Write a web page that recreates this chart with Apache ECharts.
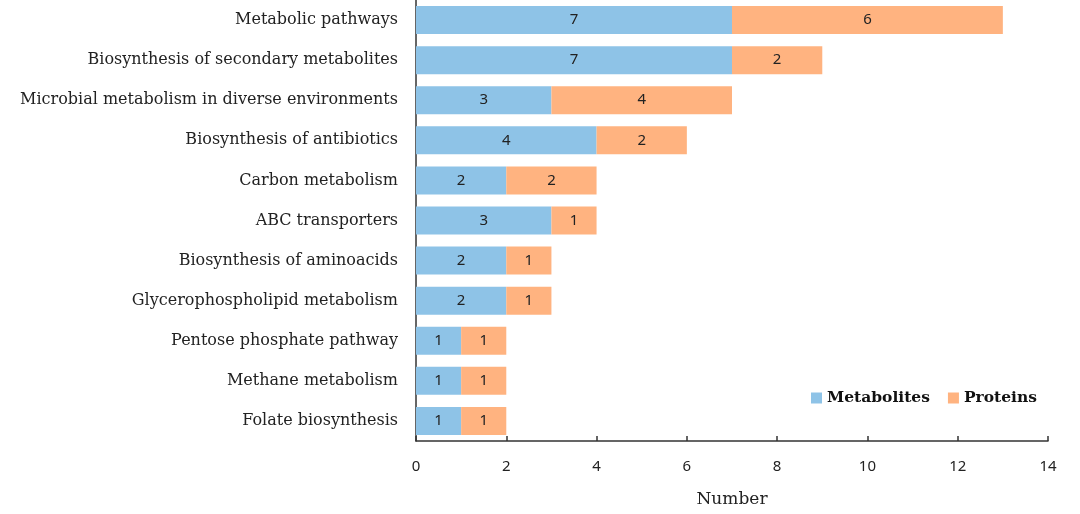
<!DOCTYPE html>
<html><head><meta charset="utf-8">
<script src="https://cdn.jsdelivr.net/npm/echarts@6/dist/echarts.min.js"></script>
<style>html,body{margin:0;padding:0;background:#fff}#c{width:1080px;height:514px}</style>
</head><body><div id="c"></div>
<script>
const categories = ["Metabolic pathways","Biosynthesis of secondary metabolites","Microbial metabolism in diverse environments","Biosynthesis of antibiotics","Carbon metabolism","ABC transporters","Biosynthesis of aminoacids","Glycerophospholipid metabolism","Pentose phosphate pathway","Methane metabolism","Folate biosynthesis"];
const metabolites = [7,7,3,4,2,3,2,2,1,1,1];
const proteins = [6,2,4,2,2,1,1,1,1,1,1];
const xTicks = [0,2,4,6,8,10,12,14];

const chart = echarts.init(document.getElementById('c'), null, {renderer:'canvas'});
const labelStyle = {show:true, position:'inside', color:'#222', fontFamily:'Noto Sans', fontSize:15};
chart.setOption({
  animation:false,
  grid:{left:416, right:32, top:0, bottom:73, containLabel:false},
  legend:{
    data:['Metabolites','Proteins'], right:38, top:385, itemWidth:11, itemHeight:11, itemGap:18,
    icon:'rect',
    textStyle:{fontFamily:'DejaVu Serif', fontWeight:'bold', fontSize:15.5, color:'#111'}
  },
  xAxis:{
    type:'value', min:xTicks[0], max:xTicks[xTicks.length-1], interval:2,
    name:'Number', nameLocation:'middle', nameGap:50,
    nameTextStyle:{fontFamily:'DejaVu Serif', fontSize:17, color:'#222'},
    axisLine:{show:true, lineStyle:{color:'#333', width:1.5}},
    axisTick:{show:true, inside:true, length:5, lineStyle:{color:'#333', width:1.5}},
    axisLabel:{fontFamily:'Noto Sans', fontSize:15, color:'#222', margin:18},
    splitLine:{show:false}
  },
  yAxis:{
    type:'category', data:categories, inverse:true,
    axisLine:{show:true, lineStyle:{color:'#333', width:1.5}},
    axisTick:{show:false},
    axisLabel:{fontFamily:'DejaVu Serif', fontSize:16, color:'#222', margin:18}
  },
  series:[
    {name:'Metabolites', type:'bar', stack:'t', data:metabolites, barWidth:28,
     itemStyle:{color:'#8EC3E7'}, label:labelStyle},
    {name:'Proteins', type:'bar', stack:'t', data:proteins, barWidth:28,
     itemStyle:{color:'#FFB380'}, label:labelStyle}
  ]
});
</script></body></html>
